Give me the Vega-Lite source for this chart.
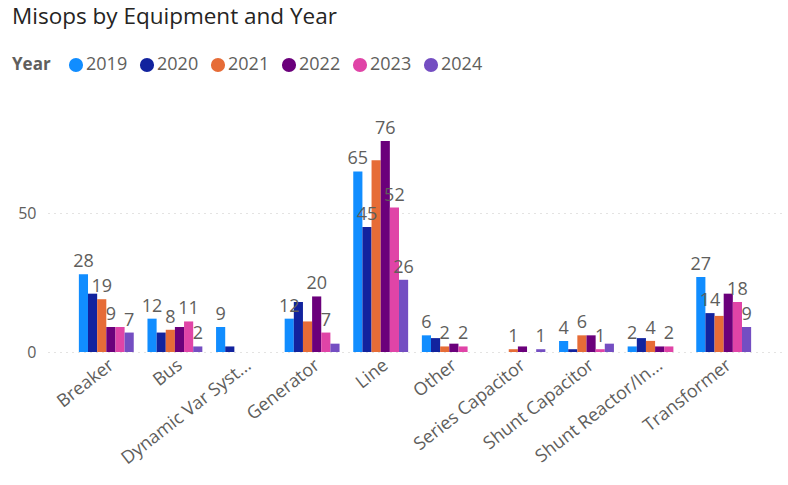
{
  "$schema": "https://vega.github.io/schema/vega-lite/v6.json",
  "autosize": "none",
  "width": 734,
  "height": 250,
  "padding": {"left": 48, "top": 102, "right": 6, "bottom": 133},
  "background": "white",
  "title": {
    "text": "Misops by Equipment and Year",
    "anchor": "start",
    "frame": "group",
    "font": "Open Sans",
    "fontSize": 22.5,
    "fontWeight": "normal",
    "color": "#252423",
    "dx": -36,
    "dy": -24
  },
  "data": {
    "values": [
      {"equipment": "Breaker", "year": "2019", "value": 28, "show": true},
      {"equipment": "Breaker", "year": "2020", "value": 21, "show": false},
      {"equipment": "Breaker", "year": "2021", "value": 19, "show": true},
      {"equipment": "Breaker", "year": "2022", "value": 9, "show": true},
      {"equipment": "Breaker", "year": "2023", "value": 9, "show": false},
      {"equipment": "Breaker", "year": "2024", "value": 7, "show": true},
      {"equipment": "Bus", "year": "2019", "value": 12, "show": true},
      {"equipment": "Bus", "year": "2020", "value": 7, "show": false},
      {"equipment": "Bus", "year": "2021", "value": 8, "show": true},
      {"equipment": "Bus", "year": "2022", "value": 9, "show": false},
      {"equipment": "Bus", "year": "2023", "value": 11, "show": true},
      {"equipment": "Bus", "year": "2024", "value": 2, "show": true},
      {"equipment": "Dynamic Var Systems", "year": "2019", "value": 9, "show": true},
      {"equipment": "Dynamic Var Systems", "year": "2020", "value": 2, "show": false},
      {"equipment": "Generator", "year": "2019", "value": 12, "show": true},
      {"equipment": "Generator", "year": "2020", "value": 18, "show": false},
      {"equipment": "Generator", "year": "2021", "value": 11, "show": false},
      {"equipment": "Generator", "year": "2022", "value": 20, "show": true},
      {"equipment": "Generator", "year": "2023", "value": 7, "show": true},
      {"equipment": "Generator", "year": "2024", "value": 3, "show": false},
      {"equipment": "Line", "year": "2019", "value": 65, "show": true},
      {"equipment": "Line", "year": "2020", "value": 45, "show": true},
      {"equipment": "Line", "year": "2021", "value": 69, "show": false},
      {"equipment": "Line", "year": "2022", "value": 76, "show": true},
      {"equipment": "Line", "year": "2023", "value": 52, "show": true},
      {"equipment": "Line", "year": "2024", "value": 26, "show": true},
      {"equipment": "Other", "year": "2019", "value": 6, "show": true},
      {"equipment": "Other", "year": "2020", "value": 5, "show": false},
      {"equipment": "Other", "year": "2021", "value": 2, "show": true},
      {"equipment": "Other", "year": "2022", "value": 3, "show": false},
      {"equipment": "Other", "year": "2023", "value": 2, "show": true},
      {"equipment": "Series Capacitor", "year": "2021", "value": 1, "show": true},
      {"equipment": "Series Capacitor", "year": "2022", "value": 2, "show": false},
      {"equipment": "Series Capacitor", "year": "2024", "value": 1, "show": true},
      {"equipment": "Shunt Capacitor", "year": "2019", "value": 4, "show": true},
      {"equipment": "Shunt Capacitor", "year": "2020", "value": 1, "show": false},
      {"equipment": "Shunt Capacitor", "year": "2021", "value": 6, "show": true},
      {"equipment": "Shunt Capacitor", "year": "2022", "value": 6, "show": false},
      {"equipment": "Shunt Capacitor", "year": "2023", "value": 1, "show": true},
      {"equipment": "Shunt Capacitor", "year": "2024", "value": 3, "show": false},
      {"equipment": "Shunt Reactor/Inductor", "year": "2019", "value": 2, "show": true},
      {"equipment": "Shunt Reactor/Inductor", "year": "2020", "value": 5, "show": false},
      {"equipment": "Shunt Reactor/Inductor", "year": "2021", "value": 4, "show": true},
      {"equipment": "Shunt Reactor/Inductor", "year": "2022", "value": 2, "show": false},
      {"equipment": "Shunt Reactor/Inductor", "year": "2023", "value": 2, "show": true},
      {"equipment": "Transformer", "year": "2019", "value": 27, "show": true},
      {"equipment": "Transformer", "year": "2020", "value": 14, "show": true},
      {"equipment": "Transformer", "year": "2021", "value": 13, "show": false},
      {"equipment": "Transformer", "year": "2022", "value": 21, "show": false},
      {"equipment": "Transformer", "year": "2023", "value": 18, "show": true},
      {"equipment": "Transformer", "year": "2024", "value": 9, "show": true}
    ]
  },
  "encoding": {
    "x": {
      "field": "equipment",
      "type": "nominal",
      "sort": null,
      "scale": {"paddingInner": 0.2, "paddingOuter": 0.45},
      "axis": {
        "title": null,
        "domain": false,
        "ticks": false,
        "labelAngle": -38,
        "labelAlign": "right",
        "labelBaseline": "top",
        "labelPadding": 4,
        "labelFont": "Open Sans",
        "labelFontSize": 18,
        "labelColor": "#605E5C",
        "labelLimit": 300,
        "labelExpr": "length(datum.label) > 16 ? substring(datum.label, 0, 16) + '...' : datum.label"
      }
    },
    "xOffset": {
      "field": "year",
      "type": "nominal",
      "scale": {"domain": ["2019", "2020", "2021", "2022", "2023", "2024"], "paddingInner": 0, "paddingOuter": 0}
    },
    "y": {
      "field": "value",
      "type": "quantitative",
      "scale": {"domain": [0, 90], "nice": false},
      "axis": {
        "title": null,
        "values": [0, 50],
        "domain": false,
        "ticks": false,
        "labelPadding": 12,
        "labelFont": "Open Sans",
        "labelFontSize": 16,
        "labelColor": "#605E5C",
        "gridColor": "#C8C6C4",
        "gridDash": [1, 5],
        "gridWidth": 1
      }
    }
  },
  "layer": [
    {
      "mark": {"type": "bar"},
      "encoding": {
        "color": {
          "field": "year",
          "type": "nominal",
          "scale": {
            "domain": ["2019", "2020", "2021", "2022", "2023", "2024"],
            "range": ["#118DFF", "#12239E", "#E66C37", "#6B007B", "#E044A7", "#744EC2"]
          },
          "legend": {
            "title": "Year",
            "orient": "none",
            "legendX": -36,
            "legendY": -46,
            "direction": "horizontal",
            "columns": 6,
            "titleOrient": "left",
            "titleFont": "Open Sans",
            "titleFontSize": 17,
            "titleFontWeight": "bold",
            "titleColor": "#605E5C",
            "titlePadding": 16,
            "labelFont": "Open Sans",
            "labelFontSize": 18,
            "labelColor": "#605E5C",
            "labelOffset": 1,
            "symbolType": "circle",
            "symbolSize": 200,
            "symbolStrokeWidth": 0,
            "symbolOpacity": 1,
            "columnPadding": 10
          }
        }
      }
    },
    {
      "transform": [{"filter": "datum.show"}],
      "mark": {
        "type": "text",
        "baseline": "bottom",
        "dy": -3,
        "font": "Open Sans",
        "fontSize": 18,
        "color": "#605E5C"
      },
      "encoding": {
        "text": {"field": "value", "type": "quantitative"}
      }
    }
  ],
  "config": {
    "view": {"stroke": null}
  }
}
